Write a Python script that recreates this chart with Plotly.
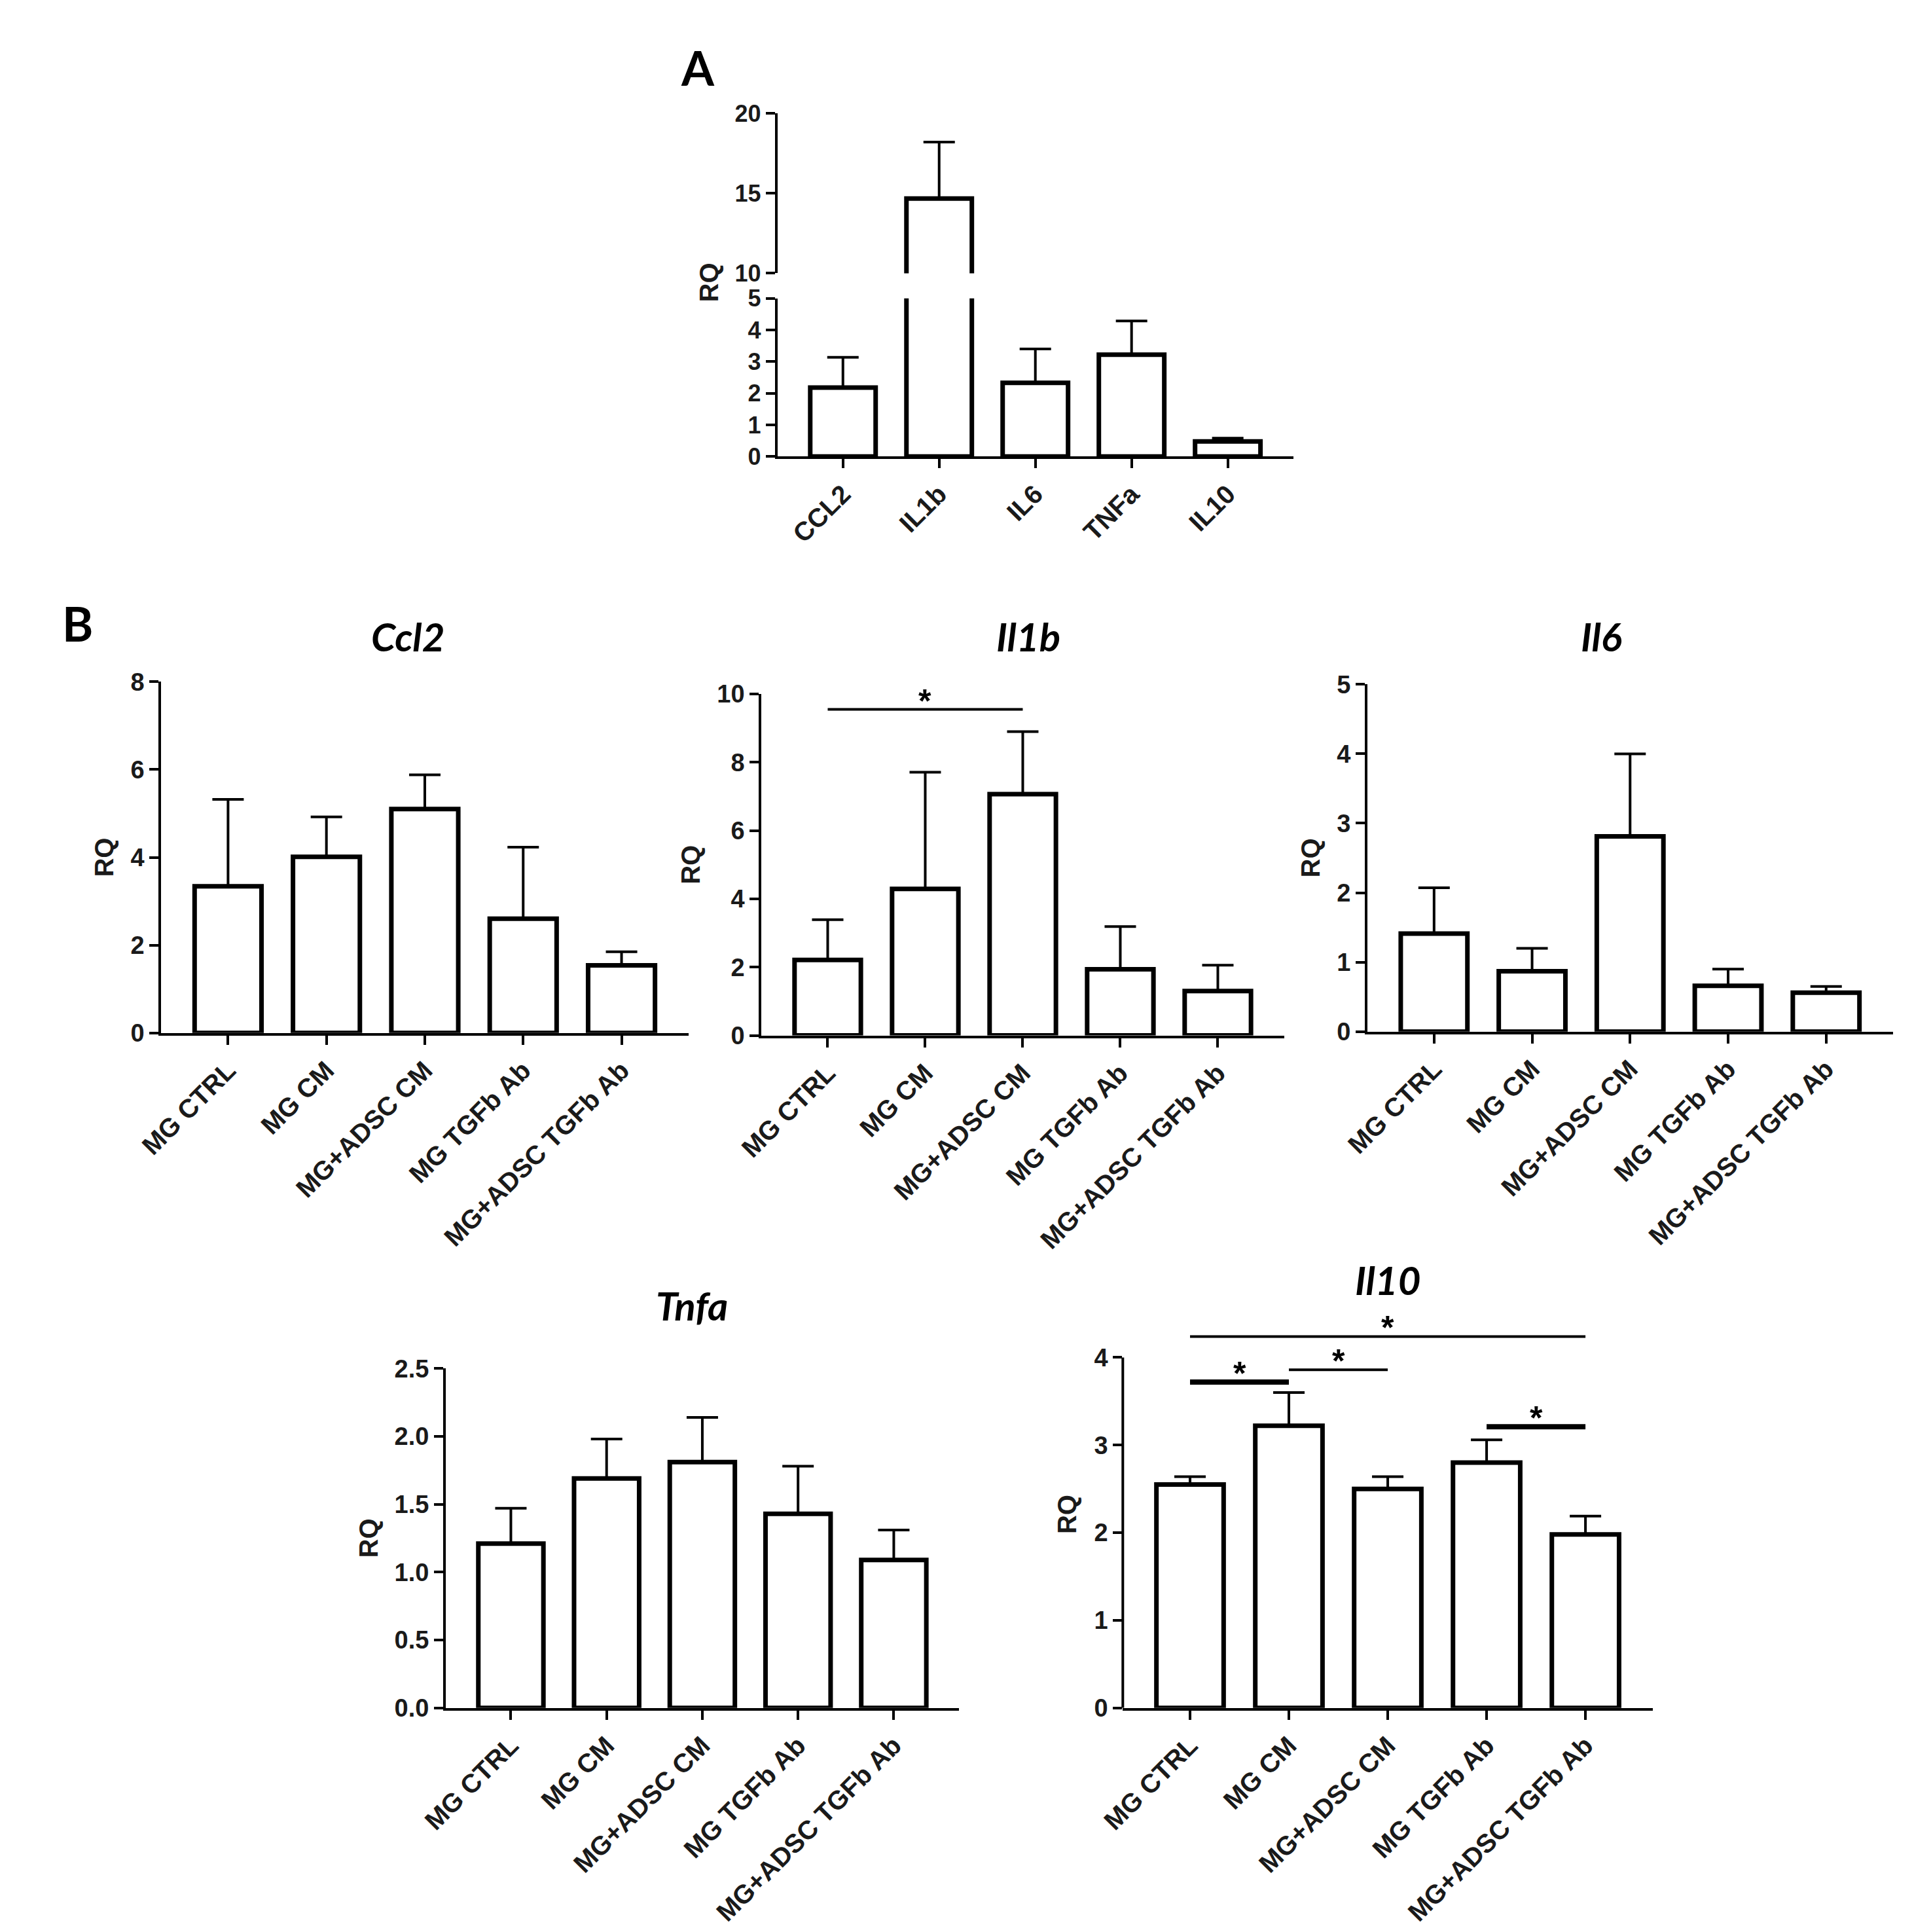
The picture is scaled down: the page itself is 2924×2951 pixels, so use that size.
import plotly.graph_objects as go

# panel A: relative expression of each gene
a_genes = ["CCL2", "IL1b", "IL6", "TNFa", "IL10"]
a_mean = [2.18, 14.67, 2.33, 3.22, 0.48]
a_err = [0.96, 3.53, 1.07, 1.07, 0.10]

# panel B: treatment groups
groups = ["MG CTRL", "MG CM", "MG+ADSC CM", "MG TGFb Ab", "MG+ADSC TGFb Ab"]
ccl2_mean = [3.34, 4.01, 5.10, 2.60, 1.54]
ccl2_err = [1.98, 0.91, 0.78, 1.63, 0.31]
il1b_mean = [2.21, 4.29, 7.07, 1.94, 1.30]
il1b_err = [1.18, 3.42, 1.83, 1.25, 0.76]
il6_mean = [1.41, 0.87, 2.81, 0.66, 0.56]
il6_err = [0.66, 0.33, 1.19, 0.24, 0.09]
tnfa_mean = [1.21, 1.69, 1.81, 1.43, 1.09]
tnfa_err = [0.26, 0.29, 0.33, 0.35, 0.22]
il10_mean = [2.55, 3.22, 2.50, 2.80, 1.98]
il10_err = [0.09, 0.38, 0.14, 0.26, 0.21]

# significance brackets: (from group, to group, height, thick?)
il1b_sig = [("MG CTRL", "MG+ADSC CM", 9.55, False)]
il10_sig = [("MG CTRL", "MG+ADSC TGFb Ab", 4.24, False),
            ("MG CTRL", "MG CM", 3.72, True),
            ("MG CM", "MG+ADSC CM", 3.86, False),
            ("MG TGFb Ab", "MG+ADSC TGFb Ab", 3.21, True)]

W, H = 2924, 2951
TICKFONT = dict(family="Liberation Sans", size=38, color="#1a1a1a", weight="bold")
CATFONT = dict(family="Liberation Sans", size=40, color="#1a1a1a", weight="bold")
XRANGE = [-0.68, 4.68]


def px_x(p):
    return p / W


def px_y(p):
    return 1 - p / H


def bar_trace(x, y, err, xa, ya):
    return go.Bar(x=x, y=y, xaxis=xa, yaxis=ya, showlegend=False,
                  marker=dict(color="white", line=dict(color="black", width=7)),
                  error_y=dict(type="data", symmetric=False, array=err,
                               arrayminus=[0] * len(err), width=24,
                               thickness=4, color="black"))


def xaxis(domain, anchor, font=CATFONT):
    return dict(domain=domain, anchor=anchor, range=XRANGE, showline=True,
                linewidth=4, linecolor="black", ticks="outside", ticklen=14,
                tickwidth=4, tickcolor="black", tickangle=-45, tickfont=font,
                showgrid=False, zeroline=False)


def yaxis(domain, anchor, rng, **kw):
    d = dict(domain=domain, anchor=anchor, range=rng, showline=True,
             linewidth=4, linecolor="black", ticks="outside", ticklen=14,
             tickwidth=4, tickcolor="black", tickfont=TICKFONT,
             showgrid=False, zeroline=False,
             title=dict(text="RQ", standoff=14,
                        font=dict(family="Liberation Sans", size=40,
                                  color="#1a1a1a", weight="bold")))
    d.update(kw)
    return d


def paper_text(txt, x, y, font, **kw):
    d = dict(x=px_x(x), y=px_y(y), xref="paper", yref="paper", text=txt,
             showarrow=False, xanchor="center", yanchor="middle", font=font)
    d.update(kw)
    return d


fig = go.Figure()

# panel A, broken axis: lower 0-5, upper 10-20
fig.add_trace(bar_trace(a_genes, a_mean, a_err, "x", "y"))
fig.add_trace(bar_trace(a_genes, a_mean, a_err, "x", "y2"))

panels = [
    ("x2", "y3", ccl2_mean, ccl2_err),
    ("x3", "y4", il1b_mean, il1b_err),
    ("x4", "y5", il6_mean, il6_err),
    ("x5", "y6", tnfa_mean, tnfa_err),
    ("x6", "y7", il10_mean, il10_err),
]
for xa, ya, m, e in panels:
    fig.add_trace(bar_trace(groups, m, e, xa, ya))

annotations = []
for sigs, xa, ya in [(il1b_sig, "x3", "y4"), (il10_sig, "x6", "y7")]:
    for g0, g1, h, thick in sigs:
        fig.add_trace(go.Scatter(x=[g0, g1], y=[h, h], xaxis=xa, yaxis=ya,
                                 mode="lines", showlegend=False,
                                 line=dict(color="black", width=8 if thick else 4)))
        mid = (groups.index(g0) + groups.index(g1)) / 2
        annotations.append(dict(x=mid, y=h, xref=xa, yref=ya, text="*",
                                showarrow=False, xanchor="center", yanchor="middle",
                                yshift=13,
                                font=dict(family="Liberation Sans", size=50,
                                          color="black", weight="bold")))

TITLEFONT = dict(family="Lato", size=60, color="black", weight="bold", style="italic")
for txt, x, y in [("Ccl2", 582, 957), ("Il1b", 1544, 957), ("Il6", 2432, 957),
                  ("Tnfa", 1022, 1993), ("Il10", 2100, 1954)]:
    annotations.append(paper_text(txt, x, y, TITLEFONT))

LETTERFONT = dict(family="Lato", size=72, color="black", weight="bold")
annotations.append(paper_text("A", 1031, 75, LETTERFONT))
annotations.append(paper_text("B", 70, 936, LETTERFONT))
annotations.append(paper_text("RQ", 1049, 408,
                              dict(family="Liberation Sans", size=40,
                                   color="#1a1a1a", weight="bold"),
                              textangle=-90))

fig.update_layout(
    width=W, height=H,
    margin=dict(l=0, r=0, t=0, b=0),
    paper_bgcolor="white", plot_bgcolor="white",
    bargap=0.32,
    annotations=annotations,
    # panel A
    xaxis=xaxis([px_x(1155), px_x(1954)], "y"),
    yaxis=yaxis([px_y(678), px_y(433)], "x", [0, 5], dtick=1,
                tickfont=dict(TICKFONT, size=36), title=dict(text="")),
    yaxis2=yaxis([px_y(394), px_y(146)], "x", [10, 20], dtick=5,
                 tickfont=dict(TICKFONT, size=36), title=dict(text="")),
    # Ccl2, Il1b, Il6
    xaxis2=xaxis([px_x(200), px_x(1017)], "y3"),
    yaxis3=yaxis([px_y(1571), px_y(1027)], "x2", [0, 8], dtick=2),
    xaxis3=xaxis([px_x(1130), px_x(1940)], "y4"),
    yaxis4=yaxis([px_y(1575), px_y(1046)], "x3", [0, 10], dtick=2),
    xaxis4=xaxis([px_x(2069), px_x(2883)], "y5"),
    yaxis5=yaxis([px_y(1569), px_y(1031)], "x4", [0, 5], dtick=1),
    # Tnfa, Il10
    xaxis5=xaxis([px_x(641), px_x(1436)], "y6"),
    yaxis6=yaxis([px_y(2617), px_y(2091)], "x5", [0, 2.5], dtick=0.5, tickformat=".1f"),
    xaxis6=xaxis([px_x(1690), px_x(2511)], "y7"),
    yaxis7=yaxis([px_y(2617), px_y(2017)], "x6", [0, 4.42], tickvals=[0, 1, 2, 3, 4],
                 showline=False),
    shapes=[dict(type="line", xref="x6 domain", x0=0, x1=0, yref="y7", y0=0, y1=4,
                 line=dict(color="black", width=4))],
)

fig.write_html("out.html")
